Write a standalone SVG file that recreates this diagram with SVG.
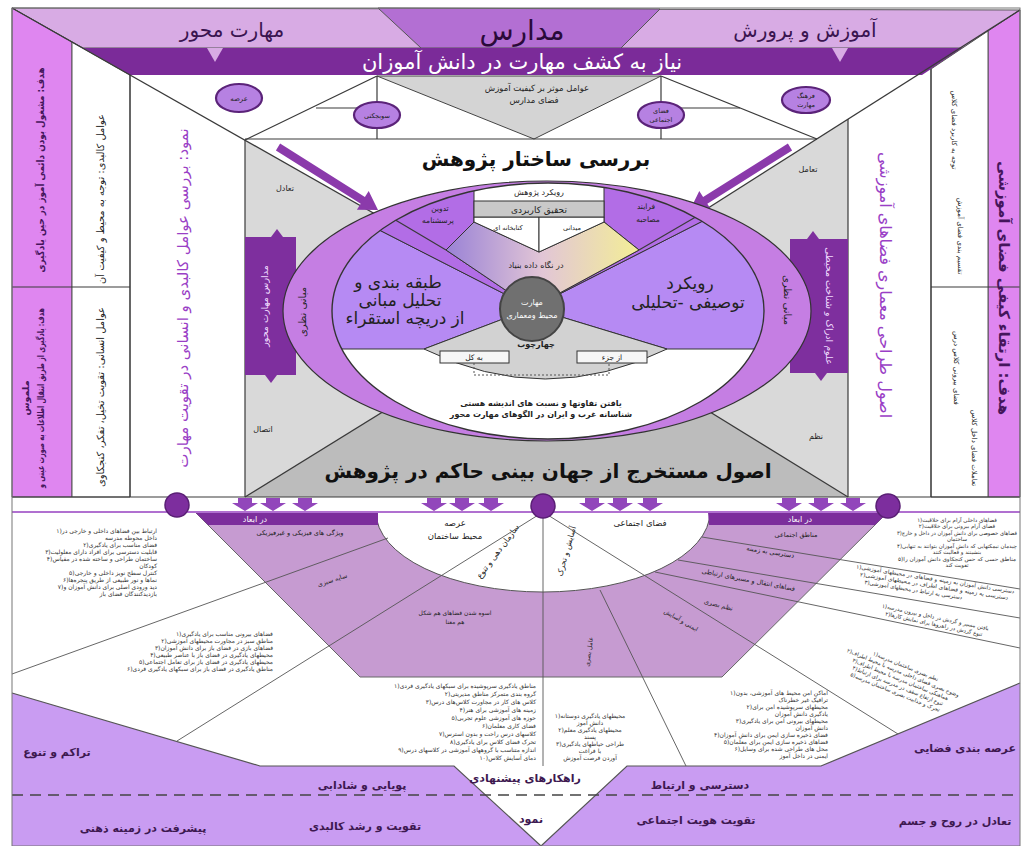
<svg xmlns="http://www.w3.org/2000/svg" width="1032" height="846" viewBox="0 0 1032 846">
<defs>
<style>
text{font-family:"DejaVu Sans","Noto Sans",sans-serif;}
.ln{stroke:#3a3a3a;stroke-width:1.2;fill:none}
.th{stroke:#555;stroke-width:0.9;fill:none}
.dk{fill:#222}
.wt{fill:#fff}
.pu{fill:#9a3fc6}
.dp{fill:#45155c}
.c{text-anchor:middle}
.e{text-anchor:end}
.b{font-weight:bold}
.circ{fill:#b681e2;stroke:#5b2379;stroke-width:2.2}
.arr{fill:#9246bb}
.tiny{font-size:6px;fill:#333}
.lb{font-size:11px;font-weight:bold;fill:#3d1850;text-anchor:middle}
</style>
<linearGradient id="grad" x1="446" y1="0" x2="639" y2="0" gradientUnits="userSpaceOnUse">
<stop offset="0" stop-color="#9a82d6"/>
<stop offset="0.5" stop-color="#e2c6d6"/>
<stop offset="1" stop-color="#f3ee96"/>
</linearGradient>
<clipPath id="inner"><ellipse cx="548" cy="311" rx="216" ry="128"/></clipPath>
<clipPath id="rightclip"><rect x="600" y="512" width="418" height="260"/></clipPath>
<path id="dn" d="M-7,0 h14 v5 h6 l-13,8 l-13,-8 h6 z"/>
</defs>
<rect width="1032" height="846" fill="#fff"/>

<g id="top-band">
<polygon points="12,8 1020,10 963,48 83,48" fill="#d8abe4" stroke="#555"/>
<polygon points="378,8 660,9 621,48 421,48" fill="#b36fd3" stroke="#555"/>
<polygon points="83,48 963,48 922,75 130,75" fill="#7b2b99"/>
<polygon points="207,48 223,48 215,62" fill="#d8abe4"/>
<polygon points="832,48 848,48 840,62" fill="#d8abe4"/>
<text x="232" y="37" class="c" font-size="20" fill="#3a1450">مهارت محور</text>
<text x="522" y="40" class="c" font-size="28" fill="#2a0a3a">مدارس</text>
<text x="805" y="37" class="c" font-size="20" fill="#3a1450">آموزش و پرورش</text>
<text x="522" y="69" class="c wt" font-size="21">نیاز به کشف مهارت در دانش آموزان</text>
</g>

<g id="left-columns">
<polygon points="12,8 72,42 72,497 12,497" fill="#df86f0" stroke="#555"/>
<polygon points="72,42 130,75 130,497 72,497" fill="#fff" stroke="#555"/>
<line x1="12" y1="287" x2="130" y2="287" class="ln"/>
<text transform="translate(44,170) rotate(-90)" class="c b dp" font-size="10" textLength="205" lengthAdjust="spacingAndGlyphs">هدف: مشغول بودن دائمی آموز در حین یادگیری</text>
<text transform="translate(44,398) rotate(-90)" class="c b dp" font-size="9.5" textLength="180" lengthAdjust="spacingAndGlyphs">هدف: یادگیری از طریق انتقال اطلاعات به صورت عینی و</text>
<text transform="translate(29,398) rotate(-90)" class="c b dp" font-size="9.5">ملموس</text>
<text transform="translate(104,199) rotate(-90)" class="c dk" font-size="10" textLength="170" lengthAdjust="spacingAndGlyphs">عوامل کالبدی: توجه به محیط و کیفیت آن</text>
<text transform="translate(104,397) rotate(-90)" class="c dk" font-size="10" textLength="180" lengthAdjust="spacingAndGlyphs">عوامل انسانی: تقویت تخیل، تفکر، کنجکاوی</text>
</g>

<g id="left-aspect">
<text transform="translate(188,298) rotate(-90)" class="c pu" font-size="15">نمود: بررسی عوامل کالبدی و انسانی در تقویت مهارت</text>
</g>

<g id="right-columns">
<polygon points="1020,10 1020,497 988,497 988,31" fill="#df86f0" stroke="#555"/>
<polygon points="988,31 988,497 931,497 931,69" fill="#fff" stroke="#555"/>
<line x1="931" y1="287" x2="1020" y2="287" class="ln"/>
<text transform="translate(999,288) rotate(90)" class="c b dp" font-size="15">هدف: ارتقاء کیفی فضای آموزشی</text>
<text transform="translate(952,130) rotate(90)" class="c dk" font-size="7">توجه به کاربرد فضای کلاس</text>
<text transform="translate(958,236) rotate(90)" class="c dk" font-size="7">تقسیم بندی فضای آموزش</text>
<text transform="translate(954,368) rotate(90)" class="c dk" font-size="7">فضای بیرونی کلاس درس</text>
<text transform="translate(972,448) rotate(90)" class="c dk" font-size="7">تعاملات فضای داخل کلاس</text>
</g>

<g id="right-principles">
<text transform="translate(880,285) rotate(90)" class="c pu" font-size="16">اصول طراحی معماری فضاهای آموزشی</text>
</g>

<g id="research-box">
<polygon points="245,140 546,311 245,497" fill="#d9d9d9"/>
<polygon points="848,119 546,311 848,497" fill="#d9d9d9"/>
<polygon points="245,497 546,311 848,497" fill="#bcbcbc"/>
<polygon points="377,76 661,76 534,139" fill="#d4d4d4" stroke="#444"/>
<text x="537" y="91" class="c dk" font-size="8.5">عوامل موثر بر کیفیت آموزش</text>
<text x="534" y="103" class="c dk" font-size="8.5">فضای مدارس</text>
<text x="285" y="191" class="c dk" font-size="8">تعادل</text>
<text x="808" y="172" class="c dk" font-size="8">تعامل</text>
<text x="263" y="432" class="c dk" font-size="8">اتصال</text>
<text x="816" y="439" class="c dk" font-size="8">نظم</text>
<text x="536" y="166" class="c b" font-size="20" fill="#111">بررسی ساختار پژوهش</text>
<text x="548" y="478" class="c b" font-size="20" fill="#111">اصول مستخرج از جهان بینی حاکم در پژوهش</text>
</g>

<g id="connectors">
<line x1="12" y1="8" x2="546" y2="311" class="ln"/>
<line x1="1020" y1="10" x2="546" y2="311" class="ln"/>
<line x1="245" y1="497" x2="546" y2="311" class="ln"/>
<line x1="848" y1="497" x2="546" y2="311" class="ln"/>
<line x1="130" y1="75" x2="130" y2="497" class="ln"/>
<line x1="245" y1="140" x2="245" y2="497" class="ln"/>
<line x1="848" y1="119" x2="848" y2="497" class="ln"/>
<line x1="931" y1="69" x2="931" y2="497" class="ln"/>
<line x1="245" y1="139" x2="817" y2="139" class="ln"/>
<line x1="316" y1="108" x2="377" y2="108" class="ln"/>
<line x1="661" y1="108" x2="740" y2="108" class="ln"/>
<line x1="377" y1="76" x2="377" y2="139" class="ln"/>
<line x1="661" y1="76" x2="661" y2="139" class="ln"/>
<line x1="245" y1="140" x2="377" y2="76" class="ln"/>
<line x1="817" y1="139" x2="661" y2="76" class="ln"/>
<line x1="12" y1="497" x2="1020" y2="497" class="ln"/>
<polygon points="275.9,150.4 360.7,203.8 356.9,209.7 378,210 368.7,191.1 364.9,197 280.1,143.6" fill="#8b3aab"/>
<g transform="matrix(-1,0,0,1,1068,0)"><polygon points="275.9,150.4 360.7,203.8 356.9,209.7 378,210 368.7,191.1 364.9,197 280.1,143.6" fill="#8b3aab"/></g>
</g>

<g id="top-circles">
<ellipse cx="239" cy="98" rx="23" ry="14" class="circ"/>
<text x="239" y="101" class="c dk" font-size="7">عرصه</text>
<ellipse cx="377" cy="115" rx="23" ry="13" class="circ"/>
<text x="377" y="118" class="c dk" font-size="6.5">سوبجکتی</text>
<ellipse cx="661" cy="115" rx="23" ry="13" class="circ"/>
<text x="661" y="113" class="c dk" font-size="6.5">فضای</text>
<text x="661" y="122" class="c dk" font-size="6.5">اجتماعی</text>
<ellipse cx="806" cy="100" rx="24" ry="13" class="circ"/>
<text x="806" y="98" class="c dk" font-size="6.5">فرهنگ</text>
<text x="806" y="107" class="c dk" font-size="6.5">مهارت</text>
</g>

<g id="theory-left">
<rect x="245" y="237" width="51" height="138" fill="#7e2f9e"/>
<polygon points="271,237 277,229 283,237" fill="#7e2f9e"/>
<polygon points="265,375 271,383 277,375" fill="#7e2f9e"/>
<text transform="translate(268,306) rotate(-90)" class="c" font-size="9.5" fill="#f0dcff">مدارس مهارت محور</text>
</g>
<g id="theory-right">
<rect x="790" y="239" width="58" height="134" fill="#7e2f9e"/>
<polygon points="807,239 813,231 819,239" fill="#7e2f9e"/>
<polygon points="815,373 821,381 827,373" fill="#7e2f9e"/>
<text transform="translate(826,306) rotate(90)" class="c" font-size="9.5" fill="#f0dcff">علوم ادراک و شناخت محیطی</text>
</g>

<g id="research-circle">
<ellipse cx="547" cy="311" rx="264" ry="130" fill="#c57ee3" stroke="#333" stroke-width="1.2"/>
<ellipse cx="548" cy="311" rx="216" ry="128" fill="#fff"/>
<g clip-path="url(#inner)">
<polygon points="532,308 250,164 250,349 424,349" fill="#b68af3" stroke="#333" stroke-width="1"/>
<polygon points="532,308 850,146 850,349 667,349" fill="#b68af3" stroke="#333" stroke-width="1"/>
<polygon points="532,308 446,250 474,222 474,150 250,150 250,164" fill="#b26de6" stroke="#333" stroke-width="1"/>
<polygon points="532,308 639,250 604,222 604,150 850,150 850,146" fill="#b26de6" stroke="#333" stroke-width="1"/>
<polygon points="532,308 446,250 474,222 539,252 604,222 639,250" fill="url(#grad)" stroke="#333" stroke-width="1"/>
<polygon points="474,217 539,217 539,252 474,222" fill="#fff" stroke="#333" stroke-width="1"/>
<polygon points="539,217 604,217 604,222 539,252" fill="#fff" stroke="#333" stroke-width="1"/>
<rect x="474" y="201" width="130" height="16" fill="#c9c9c9" stroke="#333"/>
<line x1="446" y1="250" x2="360" y2="199" class="ln"/>
<line x1="639" y1="250" x2="730" y2="197" class="ln"/>
<path d="M532,308 L424,349 Q545,409 667,349 Z" fill="#d2d2d2" stroke="#333"/>
</g>
<ellipse cx="548" cy="311" rx="216" ry="128" fill="none" stroke="#333" stroke-width="1.4"/>
<text x="539" y="195" class="c dk" font-size="8">رویکرد پژوهش</text>
<text x="539" y="213" class="c dk" font-size="9">تحقیق کاربردی</text>
<text x="508" y="230" class="c dk" font-size="6.5">کتابخانه ای</text>
<text x="572" y="230" class="c dk" font-size="6.5">میدانی</text>
<text x="440" y="211" class="c dk" font-size="7.5">تدوین</text>
<text x="438" y="223" class="c dk" font-size="7.5">پرسشنامه</text>
<text x="646" y="209" class="c dk" font-size="7.5">فرایند</text>
<text x="648" y="222" class="c dk" font-size="7.5">مصاحبه</text>
<text x="536" y="268" class="c dk" font-size="8">در نگاه داده بنیاد</text>
<text x="398" y="288" class="c dk" font-size="17">طبقه بندی و</text>
<text x="400" y="306" class="c dk" font-size="17">تحلیل مبانی</text>
<text x="405" y="324" class="c dk" font-size="17">از دریچه استقراء</text>
<text x="690" y="289" class="c dk" font-size="17">رویکرد</text>
<text x="688" y="308" class="c dk" font-size="17">توصیفی -تحلیلی</text>
<text x="536" y="347" class="c b dk" font-size="8">چهارچوب</text>
<rect x="440" y="351" width="69" height="12" fill="#f6f6f6" stroke="#333"/>
<rect x="577" y="351" width="70" height="12" fill="#f6f6f6" stroke="#333"/>
<text x="474" y="360" class="c dk" font-size="7.5">به کل</text>
<text x="612" y="360" class="c dk" font-size="7.5">از جزء</text>
<path d="M474,363 V375 H609 V363" fill="none" stroke="#555" stroke-dasharray="2,2"/>
<text x="541" y="406" class="c b dk" font-size="8">یافتن تفاوتها و نسبت های اندیشه هستی</text>
<text x="541" y="417" class="c b dk" font-size="8">شناسانه غرب و ایران در الگوهای مهارت محور</text>
<text transform="translate(306,312) rotate(-90)" class="c dk" font-size="10">مبانی نظری</text>
<text transform="translate(784,300) rotate(90)" class="c dk" font-size="10">مبانی نظری</text>
<circle cx="532" cy="309" r="32" fill="#707070" stroke="#444" stroke-width="2"/>
<text x="532" y="305" class="c wt" font-size="8">مهارت</text>
<text x="532" y="318" class="c wt" font-size="8">محیط ومعماری</text>
</g>

<g id="lower-fan">
<polygon points="195,512 888,512 722,677 360,677" fill="#c69bd1" stroke="#666"/>
<path d="M376,512 A167,80 0 0 0 710,512 Z" fill="#fff" stroke="#555"/>
<polygon points="195,512 378,512 378,525 208,525" fill="#7c2e9c"/>
<polygon points="708,512 888,512 875,525 709,525" fill="#7c2e9c"/>
<text x="255" y="522" class="c wt" font-size="8">در ابعاد</text>
<text x="800" y="522" class="c wt" font-size="8">در ابعاد</text>
<text x="455" y="526" class="c dk" font-size="8.5">عرصه</text>
<text x="455" y="539" class="c dk" font-size="8.5">محیط ساختمان</text>
<text transform="translate(500,553) rotate(-53)" class="c dk" font-size="8">سازمان دهی و تنوع</text>
<text transform="translate(569,552) rotate(-74)" class="c dk" font-size="8">آسایش و تحرک</text>
<text x="640" y="526" class="c dk" font-size="8.5">فضای اجتماعی</text>
<text x="300" y="535" class="c dk" font-size="6.5">ویژگی های فیزیکی و غیرفیزیکی</text>
<text transform="translate(333,582) rotate(-18)" class="c dk" font-size="6.5">سایه سبزی</text>
<text x="455" y="615" class="c dk" font-size="6">اسوه شدن فضاهای هم شکل</text>
<text x="455" y="624" class="c dk" font-size="6">هم معنا</text>
<text transform="translate(591,652) rotate(-82)" class="c dk" font-size="6">عامل بصری</text>
<text x="796" y="537" class="c dk" font-size="6.5">مناطق اجتماعی</text>
<text transform="translate(770,554) rotate(9)" class="c dk" font-size="6.5">دسترسی به زمینه</text>
<text transform="translate(748,582) rotate(11)" class="c dk" font-size="6.5">فضاهای انتقال و مسیرهای ارتباطی</text>
<text transform="translate(718,607) rotate(15)" class="c dk" font-size="6.5">نظم بصری</text>
<text transform="translate(680,622) rotate(30)" class="c dk" font-size="6">ایمنی و آسایش</text>
</g>

<g id="lower-lines">
<line x1="543" y1="512" x2="177" y2="741" class="th"/>
<line x1="543" y1="512" x2="898" y2="734" class="th"/>
<line x1="543" y1="512" x2="543" y2="766" class="th"/>
<line x1="388" y1="538" x2="12" y2="674" class="th"/>
<line x1="600" y1="590" x2="686" y2="766" class="th"/>
<line x1="702" y1="537" x2="1020" y2="589" class="th"/>
<line x1="678" y1="560" x2="1020" y2="618" class="th"/>
<line x1="655" y1="572" x2="1020" y2="648" class="th"/>
</g>

<g id="lower-band">
<polygon points="12,693 260,766 454,766 541,846 627,766 821,766 1020,683 1020,846 12,846" fill="#c99cf2"/>
<polyline points="12,693 260,766 454,766 541,846 627,766 821,766 1020,683" fill="none" stroke="#555" stroke-width="1.2"/>
<line x1="12" y1="795" x2="1020" y2="795" stroke="#444" stroke-width="1.3" stroke-dasharray="11,7"/>
<text x="57" y="756" class="lb">تراکم و تنوع</text>
<text x="965" y="752" class="lb">عرصه بندی فضایی</text>
<text x="362" y="789" class="lb">پویایی و شادابی</text>
<text x="700" y="789" class="lb">دسترسی و ارتباط</text>
<text x="525" y="782" class="lb" font-size="10">راهکارهای پیشنهادی</text>
<text x="143" y="832" class="lb">پیشرفت در زمینه ذهنی</text>
<text x="365" y="830" class="lb">تقویت و رشد کالبدی</text>
<text x="531" y="823" class="lb">نمود</text>
<text x="696" y="824" class="lb">تقویت هویت اجتماعی</text>
<text x="955" y="825" class="lb">تعادل در روح و جسم</text>
</g>

<g id="divider">
<line x1="12" y1="512" x2="1020" y2="512" stroke="#b070d0" stroke-width="2"/>
<use href="#dn" x="245" y="498" class="arr"/>
<use href="#dn" x="273" y="498" class="arr"/>
<use href="#dn" x="305" y="498" class="arr"/>
<use href="#dn" x="434" y="498" class="arr"/>
<use href="#dn" x="462" y="498" class="arr"/>
<use href="#dn" x="491" y="498" class="arr"/>
<use href="#dn" x="592" y="498" class="arr"/>
<use href="#dn" x="620" y="498" class="arr"/>
<use href="#dn" x="650" y="498" class="arr"/>
<use href="#dn" x="789" y="498" class="arr"/>
<use href="#dn" x="821" y="498" class="arr"/>
<use href="#dn" x="853" y="498" class="arr"/>
<circle cx="177" cy="505" r="12" fill="#7d2e9e" stroke="#5a1f75" stroke-width="1.5"/>
<circle cx="543" cy="506" r="12" fill="#7d2e9e" stroke="#5a1f75" stroke-width="1.5"/>
<circle cx="888" cy="506" r="12" fill="#7d2e9e" stroke="#5a1f75" stroke-width="1.5"/>
</g>

<g id="list-left-top" class="tiny">
<text x="157" y="533" class="e">۱)ارتباط بین فضاهای داخلی و خارجی در</text>
<text x="157" y="540" class="e">داخل محوطه مدرسه</text>
<text x="157" y="547" class="e">۲)فضای مناسب برای یادگیری</text>
<text x="157" y="554" class="e">۳)قابلیت دسترسی برای افراد دارای معلولیت</text>
<text x="157" y="561" class="e">۴)ساختمان طراحی و ساخته شده در مقیاس</text>
<text x="157" y="568" class="e">کودکان</text>
<text x="157" y="575" class="e">۵)کنترل سطح نویز داخلی و خارجی</text>
<text x="157" y="582" class="e">۶)نماها و نور طبیعی از طریق پنجره‌ها</text>
<text x="157" y="589" class="e">۷)دید ورودی اصلی برای دانش آموزان و</text>
<text x="157" y="596" class="e">بازدیدکنندگان فضای باز</text>
</g>

<g id="list-left-mid" class="tiny">
<text x="273" y="636" class="e">۱)فضاهای بیرونی مناسب برای یادگیری</text>
<text x="273" y="643" class="e">۲)مناطق سبز در مجاورت محیطهای آموزشی</text>
<text x="273" y="650" class="e">۳)فضاهای بازی در فضای باز برای دانش آموزان</text>
<text x="273" y="657" class="e">۴)محیطهای یادگیری در فضای باز با عناصر طبیعی</text>
<text x="273" y="664" class="e">۵)محیطهای یادگیری در فضای باز برای تعامل اجتماعی</text>
<text x="273" y="671" class="e">۶)مناطق یادگیری در فضای باز برای سبکهای یادگیری فردی</text>
</g>

<g id="list-center-left" class="tiny">
<text x="536" y="688" class="e">۱)مناطق یادگیری سرپوشیده برای سبکهای یادگیری فردی</text>
<text x="536" y="696" class="e">۲)گروه بندی متمرکز مناطق مدیریتی</text>
<text x="536" y="704" class="e">۳)کلاس های کار در مجاورت کلاس‌های درس</text>
<text x="536" y="712" class="e">۴)زمینه های آموزشی برای هنر</text>
<text x="536" y="720" class="e">۵)حوزه های آموزشی علوم تجربی</text>
<text x="536" y="728" class="e">۶)فضای کاری معلمان</text>
<text x="536" y="736" class="e">۷)کلاسهای درس راحت و بدون استرس</text>
<text x="536" y="744" class="e">۸)تحرک فضای کلاس برای یادگیری</text>
<text x="536" y="752" class="e">۹)اندازه متناسب با گروههای آموزشی در کلاسهای درس</text>
<text x="536" y="760" class="e">۱۰)دمای آسایش کلاس</text>
</g>

<g id="list-center-right" class="tiny">
<text x="590" y="718" class="c">۱)محیطهای یادگیری دوستانه</text>
<text x="590" y="725" class="c">دانش آموز</text>
<text x="590" y="732" class="c">۲)محیطهای یادگیری معلم</text>
<text x="590" y="739" class="c">پسند</text>
<text x="590" y="746" class="c">۳)طراحی حیاطهای یادگیری</text>
<text x="590" y="753" class="c">با فراغت</text>
<text x="590" y="760" class="c">آوردن فرصت آموزش</text>
</g>

<g id="list-right-low" class="tiny">
<text x="828" y="695" class="e">۱)اماکن امن محیط های آموزشی، بدون</text>
<text x="828" y="702" class="e">ترافیک غیر خطرناک</text>
<text x="828" y="709" class="e">۲)محیطهای سرپوشیده امن برای</text>
<text x="828" y="716" class="e">یادگیری دانش آموزان</text>
<text x="828" y="723" class="e">۳)محیطهای بیرونی امن برای یادگیری</text>
<text x="828" y="730" class="e">دانش آموزان</text>
<text x="828" y="737" class="e">۴)فضای ذخیره سازی ایمن برای دانش آموزان</text>
<text x="828" y="744" class="e">۵)فضاهای ذخیره سازی ایمن برای معلمان</text>
<text x="828" y="751" class="e">۶)محل های طراحی شده برای وسایل</text>
<text x="828" y="758" class="e">ایمنی در داخل آموز</text>
</g>

<g id="list-right-top" class="tiny" clip-path="url(#rightclip)">
<text x="957" y="522" class="c" font-size="5.5">۱)فضاهای داخلی آرام برای خلاقیت</text>
<text x="957" y="528" class="c" font-size="5.5">۲)فضای آرام بیرونی برای خلاقیت</text>
<text x="957" y="535" class="c" font-size="5.5" textLength="120" lengthAdjust="spacingAndGlyphs">۳)فضاهای خصوصی برای دانش آموزان در داخل و خارج</text>
<text x="957" y="541" class="c" font-size="5.5">ساختمان</text>
<text x="957" y="548" class="c" font-size="5.5" textLength="120" lengthAdjust="spacingAndGlyphs">۴)چیدمان نیمکتهایی که دانش آموزان بتوانند به تنهایی</text>
<text x="957" y="554" class="c" font-size="5.5">بنشینند و فعالیت کنند</text>
<text x="957" y="561" class="c" font-size="5.5" textLength="118" lengthAdjust="spacingAndGlyphs">۵)مناطق حسی که حس کنجکاوی دانش آموزان را</text>
<text x="957" y="567" class="c" font-size="5.5">تقویت کند</text>
</g>

<g id="list-right-rot" class="tiny" clip-path="url(#rightclip)">
<g transform="translate(935,581) rotate(9)">
<text x="0" y="0" class="c" font-size="5.5" textLength="160" lengthAdjust="spacingAndGlyphs">۱)دسترسی دانش آموزان به زمینه و فضاهای در محیطهای آموزشی</text>
<text x="0" y="7" class="c" font-size="5.5" textLength="150" lengthAdjust="spacingAndGlyphs">۲)دسترسی به زمینه و فضاهای اطراف در محیطهای آموزشی</text>
<text x="-20" y="14" class="c" font-size="5.5">۳)دسترسی به ارتباط در محیطهای آموزشی</text>
</g>
<g transform="translate(935,619) rotate(12)">
<text x="0" y="0" class="c" font-size="5.5">۱)یافتن مسیر و گردش در داخل و بیرون مدرسه</text>
<text x="0" y="7" class="c" font-size="5.5">۲)تنوع گردش در راهروها برای نمایش کارها</text>
</g>
<g transform="translate(905,668) rotate(22)">
<text x="0" y="0" class="c" font-size="5.5">۱)نظم بصری ساختمان مدرسه</text>
<text x="0" y="7" class="c" font-size="5.5">۲)وضوح بصری فضای داخلی مدرسه با محیط اطراف</text>
<text x="0" y="14" class="c" font-size="5.5">۳)هماهنگی ساختمان مدرسه با محیط اطراف</text>
<text x="0" y="21" class="c" font-size="5.5">۴)تنوع ارتفاع سقف در مدرسه برای ارتباط</text>
<text x="0" y="28" class="c" font-size="5.5">۵)تحرک و جذابیت بصری ساختمان مدرسه</text>
</g>
</g>

<g id="frame">
<rect x="12" y="8" width="1008" height="838" fill="none" stroke="#777" stroke-width="1"/>
</g>
</svg>
